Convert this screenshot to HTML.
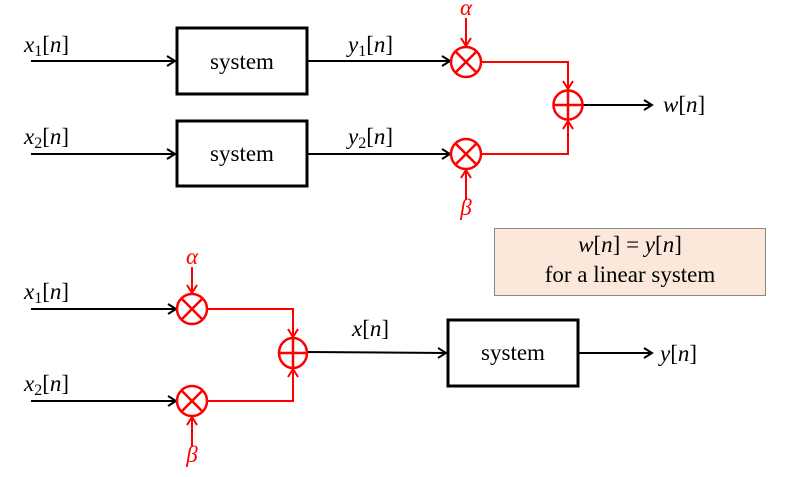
<!DOCTYPE html>
<html><head><meta charset="utf-8"><style>
html,body{margin:0;padding:0;background:#fff;}
svg{display:block;}
text{font-family:"Liberation Serif","DejaVu Serif",serif;}
.m{font-style:italic;font-size:23px;}
.s{font-style:normal;}
.sys{font-family:"Liberation Serif","DejaVu Serif",serif;font-size:23px;}
</style></head><body>
<svg width="803" height="477" viewBox="0 0 803 477" xmlns="http://www.w3.org/2000/svg">
<defs>
<marker id="ak" markerWidth="12" markerHeight="12" refX="10" refY="6" orient="auto" markerUnits="userSpaceOnUse">
<path d="M2,1 L10,6 L2,11" fill="none" stroke="#000" stroke-width="2"/></marker>
<marker id="ar" markerWidth="12" markerHeight="12" refX="10" refY="6" orient="auto" markerUnits="userSpaceOnUse">
<path d="M2,1 L10,6 L2,11" fill="none" stroke="#f00" stroke-width="2"/></marker>
</defs>
<g stroke="#000" stroke-width="2" fill="none">
<line x1="31" y1="61" x2="175" y2="61" marker-end="url(#ak)"/>
<line x1="31" y1="154" x2="175" y2="154" marker-end="url(#ak)"/>
<rect x="177" y="28" width="130" height="66" stroke-width="3"/>
<rect x="177" y="121" width="130" height="65" stroke-width="3"/>
<line x1="307" y1="61" x2="450" y2="61" marker-end="url(#ak)"/>
<line x1="307" y1="154" x2="450" y2="154" marker-end="url(#ak)"/>
<line x1="582" y1="105" x2="652" y2="105" marker-end="url(#ak)"/>
<line x1="31" y1="309" x2="176" y2="309" marker-end="url(#ak)"/>
<line x1="31" y1="401" x2="176" y2="401" marker-end="url(#ak)"/>
<line x1="307" y1="352" x2="446" y2="353" marker-end="url(#ak)"/>
<rect x="448" y="320" width="130" height="66" stroke-width="3"/>
<line x1="578" y1="353" x2="652" y2="353" marker-end="url(#ak)"/>
</g>
<g stroke="#f00" stroke-width="2.5" fill="none">
<circle cx="466" cy="62" r="15"/>
<line x1="455.4" y1="51.4" x2="476.6" y2="72.6"/><line x1="476.6" y1="51.4" x2="455.4" y2="72.6"/>
<circle cx="466" cy="154" r="15"/>
<line x1="455.4" y1="143.4" x2="476.6" y2="164.6"/><line x1="476.6" y1="143.4" x2="455.4" y2="164.6"/>
<circle cx="568" cy="105" r="14.5"/>
<line x1="553.5" y1="105" x2="582.5" y2="105"/><line x1="568" y1="90.5" x2="568" y2="119.5"/>
<circle cx="192" cy="309" r="15"/>
<line x1="181.4" y1="298.4" x2="202.6" y2="319.6"/><line x1="202.6" y1="298.4" x2="181.4" y2="319.6"/>
<circle cx="192" cy="401" r="15"/>
<line x1="181.4" y1="390.4" x2="202.6" y2="411.6"/><line x1="202.6" y1="390.4" x2="181.4" y2="411.6"/>
<ellipse cx="293" cy="353" rx="14" ry="15"/>
<line x1="279" y1="353" x2="307" y2="353"/><line x1="293" y1="338" x2="293" y2="368"/>
</g>
<g stroke="#f00" stroke-width="2" fill="none">
<line x1="466" y1="18" x2="466" y2="46" marker-end="url(#ar)"/>
<line x1="466" y1="200" x2="466" y2="170" marker-end="url(#ar)"/>
<polyline points="481,62 568,62 568,89" marker-end="url(#ar)"/>
<polyline points="481,154 568,154 568,121" marker-end="url(#ar)"/>
<line x1="192" y1="267" x2="192" y2="293" marker-end="url(#ar)"/>
<line x1="192" y1="447" x2="192" y2="417" marker-end="url(#ar)"/>
<polyline points="207,309 293,309 293,337" marker-end="url(#ar)"/>
<polyline points="207,401 293,401 293,369" marker-end="url(#ar)"/>
</g>
<rect x="494.5" y="228.5" width="271" height="67" fill="#fce8da" stroke="#888" stroke-width="1"/>
<g fill="#000">
<text class="m" x="24" y="52">x<tspan class="s" font-size="16" dy="4">1</tspan><tspan class="s" dy="-4">[</tspan>n<tspan class="s">]</tspan></text>
<text class="m" x="24" y="144">x<tspan class="s" font-size="16" dy="4">2</tspan><tspan class="s" dy="-4">[</tspan>n<tspan class="s">]</tspan></text>
<text class="m" x="348" y="52">y<tspan class="s" font-size="16" dy="4">1</tspan><tspan class="s" dy="-4">[</tspan>n<tspan class="s">]</tspan></text>
<text class="m" x="348" y="144">y<tspan class="s" font-size="16" dy="4">2</tspan><tspan class="s" dy="-4">[</tspan>n<tspan class="s">]</tspan></text>
<text class="sys" x="242" y="69" text-anchor="middle">system</text>
<text class="sys" x="242" y="161" text-anchor="middle">system</text>
<text class="m" x="663" y="112">w<tspan class="s">[</tspan>n<tspan class="s">]</tspan></text>
<text class="m" x="24" y="299">x<tspan class="s" font-size="16" dy="4">1</tspan><tspan class="s" dy="-4">[</tspan>n<tspan class="s">]</tspan></text>
<text class="m" x="24" y="391">x<tspan class="s" font-size="16" dy="4">2</tspan><tspan class="s" dy="-4">[</tspan>n<tspan class="s">]</tspan></text>
<text class="m" x="352" y="336">x<tspan class="s">[</tspan>n<tspan class="s">]</tspan></text>
<text class="sys" x="513" y="360" text-anchor="middle">system</text>
<text class="m" x="660" y="361">y<tspan class="s">[</tspan>n<tspan class="s">]</tspan></text>
<text class="m" x="630" y="252" text-anchor="middle">w<tspan class="s">[</tspan>n<tspan class="s">] = </tspan>y<tspan class="s">[</tspan>n<tspan class="s">]</tspan></text>
<text class="sys" x="630" y="282" text-anchor="middle">for a linear system</text>
</g>
<g fill="#f00">
<text class="m" x="466" y="15" text-anchor="middle">α</text>
<text class="m" x="466" y="215" text-anchor="middle">β</text>
<text class="m" x="192" y="264" text-anchor="middle">α</text>
<text class="m" x="192" y="462" text-anchor="middle">β</text>
</g>
</svg>
</body></html>
